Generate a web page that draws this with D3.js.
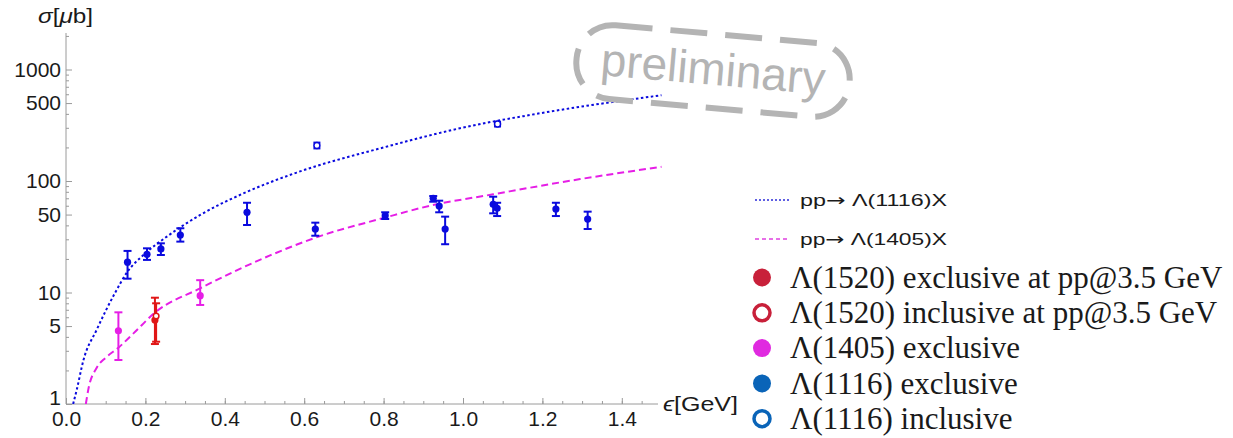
<!DOCTYPE html>
<html>
<head>
<meta charset="utf-8">
<script src="https://cdn.jsdelivr.net/npm/d3@7"></script>
<style>
  body { margin: 0; background: #fff; }
  svg { display: block; }
  .axis text { font-family: "Liberation Sans", Arial, sans-serif; font-size: 21px; fill: #1a1a1a; }
  .axis path, .axis line { stroke: #9a9a9a; }
</style>
</head>
<body>
<svg id="svg" width="1233" height="438"></svg>
<script>
"use strict";

// [epsilon GeV, sigma ub, err low, err high]
const lambda1116Excl = [
    [0.155, 18.7, 13.3, 23.6],
    [0.204, 22.0, 19.6, 24.9],
    [0.239, 24.6, 21.7, 27.6],
    [0.288, 32.8, 28.6, 37.7],
    [0.456, 52.4, 40.3, 63.8],
    [0.628, 37.1, 32.3, 42.3],
    [0.804, 48.9, 45.6, 52.4],
    [0.925, 70.0, 65.2, 73.3],
    [0.940, 59.7, 52.4, 66.6],
    [0.955, 37.1, 27.1, 47.9],
    [1.076, 61.8, 51.3, 72.3],
    [1.086, 56.9, 48.5, 63.8],
    [1.234, 56.1, 48.5, 63.8],
    [1.314, 45.6, 37.1, 53.1]
];
const lambda1116Incl = [
    [0.632, 208, 196, 221],
    [1.087, 324, 308, 340]
];
const lambda1405Excl = [
    [0.132, 4.54, 2.48, 6.64],
    [0.338, 9.36, 7.73, 12.9]
];
const lambda1520Excl = [
    [0.224, 5.67, 3.45, 8.98]
];
const lambda1520Incl = [
    [0.227, 6.15, 3.62, 8.0]
];

// model curves [epsilon, sigma]
const curve1116 = [
    [0.018, 1.0], [0.027, 1.34], [0.044, 2.48], [0.077, 4.61], [0.123, 9.84],
    [0.155, 15.4], [0.195, 21.7], [0.254, 31.7], [0.338, 49.6], [0.455, 79.7],
    [0.581, 119], [0.80, 200], [0.992, 297], [1.194, 405], [1.50, 588]
];
const curve1405 = [
    [0.050, 1.0], [0.056, 1.34], [0.077, 2.1], [0.10, 2.6], [0.132, 3.2],
    [0.17, 4.3], [0.224, 6.6], [0.338, 10.9], [0.514, 21.5], [0.628, 31],
    [0.804, 47], [0.917, 60], [1.076, 76], [1.295, 104], [1.50, 134]
];

const xTicks = [0.0, 0.2, 0.4, 0.6, 0.8, 1.0, 1.2, 1.4];
const xMinorTicks = d3.range(0.05, 1.5, 0.05);
const yTicks = [1, 5, 10, 50, 100, 500, 1000];
const yMinorTicks = [2, 3, 4, 6, 7, 8, 9, 20, 30, 40, 60, 70, 80, 90, 200, 300, 400, 600, 700, 800, 900, 2000];

const lineLegend = [
    { label: "\u039b(1116)X", color: "#2b2bd9", dash: "2,2" },
    { label: "\u039b(1405)X", color: "#e040e0", dash: "4,3" }
];
const markerLegend = [
    { label: "\u039b(1520) exclusive at pp@3.5 GeV", color: "#c8203a", open: false },
    { label: "\u039b(1520) inclusive at pp@3.5 GeV", color: "#c8203a", open: true },
    { label: "\u039b(1405) exclusive", color: "#e02ae0", open: false },
    { label: "\u039b(1116) exclusive", color: "#0a64b8", open: false },
    { label: "\u039b(1116) inclusive", color: "#0a64b8", open: true }
];

const blue = "#0a0ade";
const magenta = "#e61ee6";
const red = "#e01616";

var svg = d3.select("svg");

var x = d3.scaleLinear().domain([0, 1.5]).range([66, 661.5]);
var y = d3.scaleLog().domain([1, 2000]).range([404, 404 - 111.5 * Math.log10(2000)]);

// axes, ticks pointing inward like the original
svg.append("g")
    .attr("class", "axis")
    .attr("transform", "translate(0,404)")
    .call(d3.axisBottom(x).tickValues(xTicks).tickSize(-6).tickSizeOuter(0).tickPadding(7)
        .tickFormat(d3.format(".1f")))
    .call(g => g.select(".domain").attr("d", "M66,0H658"));

svg.append("g")
    .attr("class", "axis")
    .attr("transform", "translate(0,404)")
    .call(d3.axisBottom(x).tickValues(xMinorTicks).tickSize(-3).tickFormat(""))
    .call(g => g.select(".domain").remove());

svg.append("g")
    .attr("class", "axis")
    .attr("transform", "translate(66,0)")
    .call(d3.axisLeft(y).tickValues(yTicks).tickSize(-6).tickSizeOuter(0).tickPadding(5)
        .tickFormat(d3.format("d")))
    .call(g => g.select(".domain").attr("d", "M0,404V33"))
    .call(g => g.selectAll(".tick text").filter(d => d === 1).attr("dy", "0"));

svg.append("g")
    .attr("class", "axis")
    .attr("transform", "translate(66,0)")
    .call(d3.axisLeft(y).tickValues(yMinorTicks).tickSize(-3).tickFormat(""))
    .call(g => g.select(".domain").remove());

svg.append("text")
    .attr("x", 38).attr("y", 23)
    .attr("font-family", "Liberation Sans, Arial, sans-serif")
    .attr("font-size", 20)
    .attr("fill", "#1a1a1a")
    .attr("textLength", 55)
    .attr("lengthAdjust", "spacingAndGlyphs")
    .html("<tspan font-style='italic'>\u03c3</tspan>[<tspan font-style='italic'>\u03bc</tspan>b]");

svg.append("text")
    .attr("x", 663).attr("y", 411)
    .attr("font-family", "Liberation Sans, Arial, sans-serif")
    .attr("font-size", 20)
    .attr("fill", "#1a1a1a")
    .attr("textLength", 75)
    .attr("lengthAdjust", "spacingAndGlyphs")
    .html("<tspan font-style='italic'>\u03f5</tspan>[GeV]");

// model curves
svg.append("clipPath").attr("id", "plotclip")
    .append("rect").attr("x", 66).attr("y", 0).attr("width", 600).attr("height", 404);

var line = d3.line()
    .x(d => x(d[0]))
    .y(d => y(d[1]))
    .curve(d3.curveMonotoneX);

svg.append("path")
    .attr("clip-path", "url(#plotclip)")
    .attr("d", line(curve1116))
    .attr("fill", "none")
    .attr("stroke", blue)
    .attr("stroke-width", 2)
    .attr("stroke-dasharray", "2.5,2.5");

svg.append("path")
    .attr("clip-path", "url(#plotclip)")
    .attr("d", line(curve1405))
    .attr("fill", "none")
    .attr("stroke", magenta)
    .attr("stroke-width", 2)
    .attr("stroke-dasharray", "7,4");

// data points with error bars
function drawPoints(data, color, open, capW, r)
{
    var grp = svg.append("g")
        .attr("stroke", color)
        .attr("stroke-width", 2);

    var pt = grp.selectAll("g")
        .data(data)
        .enter()
        .append("g");

    pt.append("line")
        .attr("x1", d => x(d[0])).attr("x2", d => x(d[0]))
        .attr("y1", d => y(d[2])).attr("y2", d => y(d[3]));
    pt.append("line")
        .attr("x1", d => x(d[0]) - capW).attr("x2", d => x(d[0]) + capW)
        .attr("y1", d => y(d[2])).attr("y2", d => y(d[2]));
    pt.append("line")
        .attr("x1", d => x(d[0]) - capW).attr("x2", d => x(d[0]) + capW)
        .attr("y1", d => y(d[3])).attr("y2", d => y(d[3]));
    pt.append("circle")
        .attr("cx", d => x(d[0]))
        .attr("cy", d => y(d[1]))
        .attr("r", r)
        .attr("fill", open ? "#fff" : color)
        .attr("stroke-width", open ? 1.5 : 0);
}

drawPoints(lambda1116Excl, blue, false, 4, 3.6);
drawPoints(lambda1116Incl, blue, true, 3.5, 3);
drawPoints(lambda1405Excl, magenta, false, 4, 3.6);
drawPoints(lambda1520Excl, red, false, 4, 3.6);
drawPoints(lambda1520Incl, red, true, 4, 2.8);

// legends
var lineLeg = svg.append("g")
    .selectAll("g")
    .data(lineLegend)
    .enter()
    .append("g")
        .attr("transform", (d, i) => "translate(755," + (200 + i * 39) + ")");

lineLeg.append("line")
    .attr("x1", 0).attr("x2", 34)
    .attr("stroke", d => d.color)
    .attr("stroke-width", 1.3)
    .attr("stroke-dasharray", d => d.dash);

lineLeg.append("text")
    .attr("x", 45)
    .attr("dy", "0.35em")
    .attr("font-family", "Liberation Sans, Arial, sans-serif")
    .attr("font-size", 17)
    .attr("fill", "#1a1a1a")
    .attr("textLength", 147)
    .attr("lengthAdjust", "spacingAndGlyphs")
    .html(d => "pp<tspan font-family='DejaVu Sans'>\u2192</tspan> " + d.label);

var markLeg = svg.append("g")
    .selectAll("g")
    .data(markerLegend)
    .enter()
    .append("g")
        .attr("transform", (d, i) => "translate(762," + (277.5 + i * 35.3) + ")");

markLeg.append("circle")
    .attr("r", d => d.open ? 8 : 9)
    .attr("fill", d => d.open ? "#fff" : d.color)
    .attr("stroke", d => d.color)
    .attr("stroke-width", d => d.open ? 3.5 : 0);

markLeg.append("text")
    .attr("x", 28)
    .attr("dy", "0.33em")
    .attr("font-family", "Liberation Serif, Times New Roman, serif")
    .attr("font-size", 31)
    .attr("fill", "#1a1a1a")
    .text(d => d.label);

// preliminary stamp
var stamp = svg.append("g")
    .attr("transform", "translate(713,71) rotate(5)");

stamp.append("rect")
    .attr("x", -137).attr("y", -37)
    .attr("width", 274).attr("height", 74)
    .attr("rx", 36)
    .attr("fill", "none")
    .attr("stroke", "#b4b4b4")
    .attr("stroke-width", 6)
    .attr("stroke-dasharray", "37,18");

stamp.append("text")
    .attr("text-anchor", "middle")
    .attr("dy", "0.3em")
    .attr("font-family", "Liberation Sans, Arial, sans-serif")
    .attr("font-size", 46)
    .attr("fill", "#b4b4b4")
    .text("preliminary");
</script>
</body>
</html>
